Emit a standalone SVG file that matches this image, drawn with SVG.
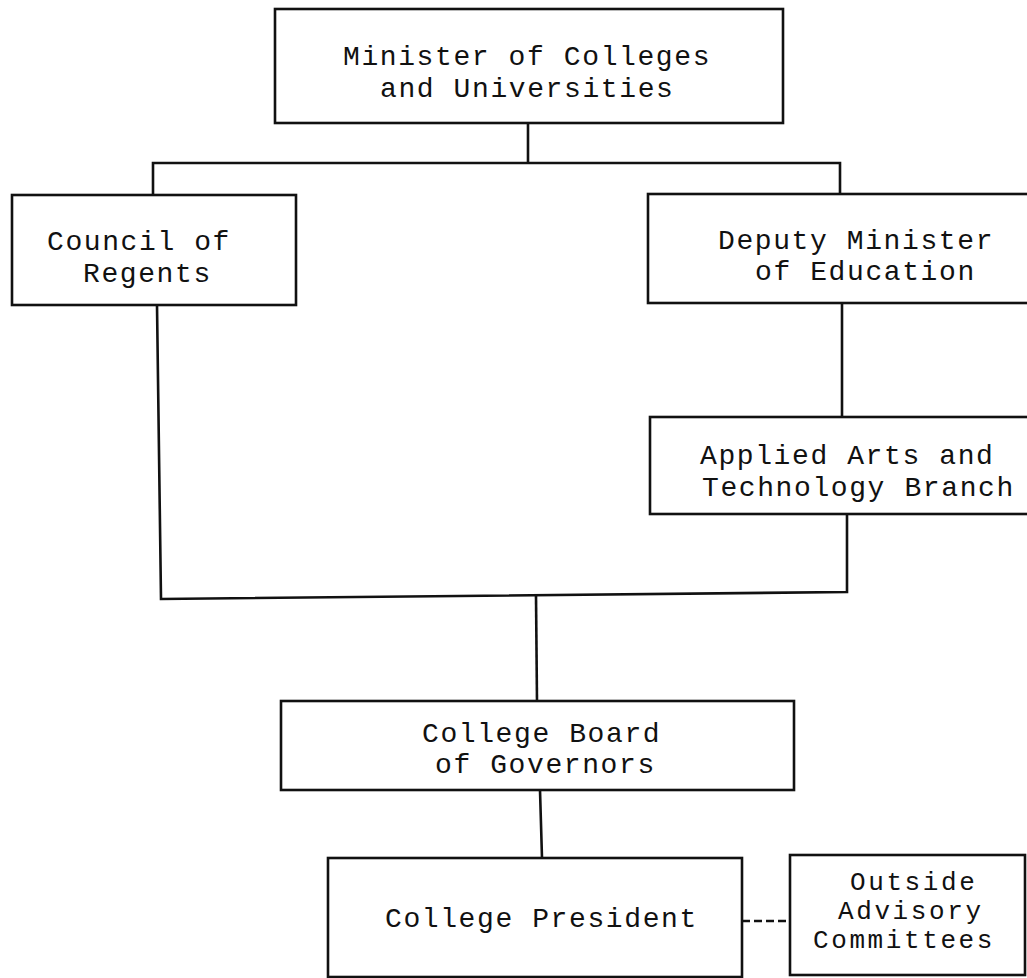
<svg xmlns="http://www.w3.org/2000/svg" width="1027" height="978" viewBox="0 0 1027 978">
<style>
.box{fill:#fff;stroke:#111;stroke-width:2.6}
.ln{fill:none;stroke:#111;stroke-width:2.6;stroke-linecap:square}
.dash{fill:none;stroke:#111;stroke-width:2.6;stroke-dasharray:8 4}
text{font-family:"Liberation Mono","DejaVu Sans Mono",monospace;font-size:28px;letter-spacing:1.6px;fill:#111}
.sm{font-size:26px;letter-spacing:2.6px}
</style>
<rect width="1027" height="978" fill="#fff"/>
<g id="connectors">
<path class="ln" d="M528,123V163M153,163H840M153,163V195M840,163V194"/>
<path class="ln" d="M157,305L161,599L847,592V514"/>
<path class="ln" d="M842,303V417"/>
<path class="ln" d="M536,596L537,701"/>
<path class="ln" d="M540,790L542,858"/>
<path class="dash" d="M742,921H790"/>
</g>
<g id="minister">
<rect class="box" x="275" y="9" width="508" height="114"/>
<text x="343" y="65">Minister of Colleges</text>
<text x="380" y="97">and Universities</text>
</g>
<g id="council">
<rect class="box" x="12" y="195" width="284" height="110"/>
<text x="47" y="250">Council of</text>
<text x="83" y="282">Regents</text>
</g>
<g id="deputy">
<rect class="box" x="648" y="194" width="382" height="109"/>
<text x="718" y="249">Deputy Minister</text>
<text x="755" y="280">of Education</text>
</g>
<g id="applied">
<rect class="box" x="650" y="417" width="380" height="97"/>
<text x="700" y="464">Applied Arts and</text>
<text x="702" y="496">Technology Branch</text>
</g>
<g id="board">
<rect class="box" x="281" y="701" width="513" height="89"/>
<text x="422" y="742">College Board</text>
<text x="435" y="773">of Governors</text>
</g>
<g id="president">
<rect class="box" x="328" y="858" width="414" height="119"/>
<text x="385" y="927">College President</text>
</g>
<g id="outside">
<rect class="box" x="790" y="855" width="235" height="120"/>
<text class="sm" x="850" y="890">Outside</text>
<text class="sm" x="838" y="919">Advisory</text>
<text class="sm" x="813" y="948">Committees</text>
</g>
</svg>
